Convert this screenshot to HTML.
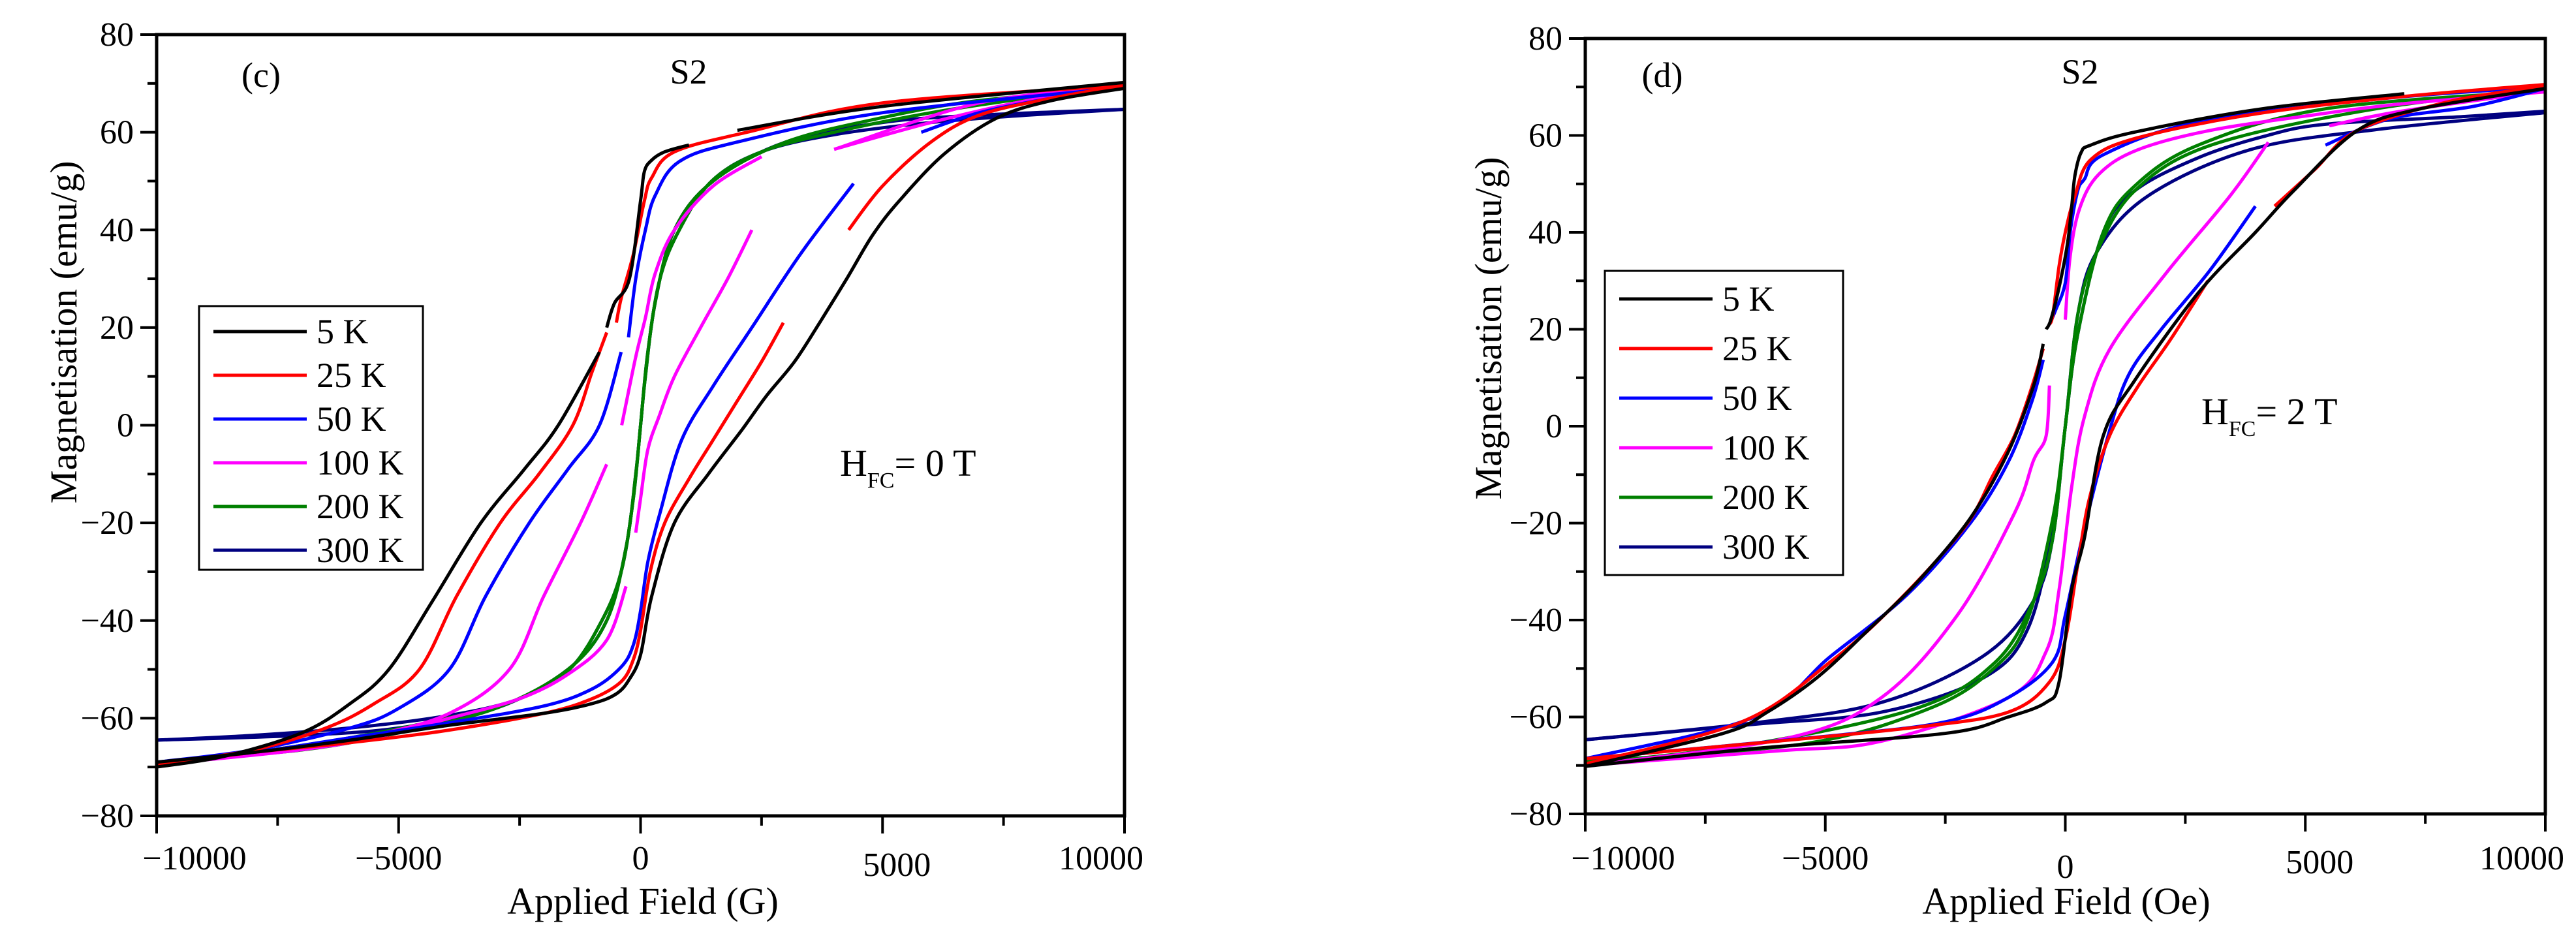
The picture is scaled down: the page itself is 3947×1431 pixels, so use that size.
<!DOCTYPE html>
<html><head><meta charset="utf-8"><style>
html,body{margin:0;padding:0;background:#fff;}
svg{display:block;font-family:"Liberation Serif","Times New Roman",serif;}
svg text{font-family:"Liberation Serif","Times New Roman",serif;fill:#000;}
</style></head>
<body>
<svg id="fig" width="3947" height="1431" viewBox="0 0 3947 1431" xmlns="http://www.w3.org/2000/svg" font-family="Liberation Serif, serif"></svg>
<script>
// ---- shared axis data ----
const xTicks = [-10000, -5000, 0, 5000, 10000];
const xMinorTicks = [-7500, -2500, 2500, 7500];
const yTicks = [80, 60, 40, 20, 0, -20, -40, -60, -80];
const yMinorTicks = [70, 50, 30, 10, -10, -30, -50, -70];
const xTickLabels = ["\u221210000", "\u22125000", "0", "5000", "10000"];
const yTickLabels = ["80", "60", "40", "20", "0", "\u221220", "\u221240", "\u221260", "\u221280"];
const temps = ["5 K", "25 K", "50 K", "100 K", "200 K", "300 K"];
const colors = ["#000000", "#ff0000", "#0000ff", "#ff00ff", "#008000", "#000080"];

// ---- panel (c) data: [field, magnetisation], null = gap ----
const c5Down = [[10000,70.2],[5000,65.3],[2000,60.4],null,[1000,57.4],[500,56],[230,54.3],[80,52],[0,46],[-230,30],[-540,25],[-700,20],null,[-850,15],[-1700,0],[-2400,-9],[-3300,-20],[-4300,-36],[-5200,-50],[-6000,-57],[-7000,-63],[-8600,-67.8],[-10000,-70]];
const c5Up = [[-10000,-69],[-8000,-67],[-6000,-64.5],[-4000,-61.5],[-2000,-59],[-1000,-57],[-500,-55],[-230,-52],[0,-47],[230,-35],[700,-20],[1400,-10],[2090,-1],[2600,6],[3180,13],[3700,21],[4260,30],[4800,39],[5350,46],[6280,55.6],[7360,62.9],[8500,66.5],[10000,69]];
const c25Down = [[10000,69.6],[5000,66],[2200,60],[700,56],[230,50.7],[80,46],[-150,35],[-400,26],[-500,21],null,[-700,19],[-1000,11],[-1400,0],[-2100,-10],[-2900,-20],[-3800,-35],[-4570,-50],[-5500,-57],[-6500,-62],[-8000,-66.5],[-10000,-69.5]];
const c25Up = [[-10000,-69.5],[-8000,-67],[-6000,-65],[-4000,-62.5],[-2000,-59],[-1000,-56],[-400,-52.5],[-150,-48],[0,-42],[200,-30],[500,-20],[1000,-11],[1500,-3],[2000,5],[2500,13],[2950,21],null,[4300,40],[5000,49],[6000,58],[7000,63.5],[8500,67],[10000,69.6]];
const c50Down = [[10000,69.2],[5000,64],[2000,58],[800,54],[300,47],[100,40],[-100,30],[-250,18],null,[-400,15],[-850,0],[-1500,-9],[-2300,-20],[-3200,-35],[-3950,-50],[-5000,-58],[-6000,-62],[-8000,-66.5],[-10000,-69]];
const c50Up = [[-10000,-69],[-8000,-67],[-6000,-64],[-4000,-61],[-2000,-57.5],[-1000,-54],[-400,-49.5],[-150,-45],[0,-38],[150,-28],[400,-18],[850,-3],[1500,8],[2300,20],[3300,35],[4400,49.5],null,[5800,60],[7000,64],[8500,67],[10000,69.2]];
const c100Down = [[10000,69.5],[7000,66],[4000,56.5],null,[2500,55],[1500,49],[700,40],[300,31],[100,22],[-100,14],[-390,0],null,[-700,-8],[-1240,-20],[-2000,-35],[-2710,-50],[-3950,-59],[-5500,-63.5],[-7050,-66.5],[-10000,-69.5]];
const c100Up = [[-10000,-69.5],[-7050,-66.5],[-5500,-64],[-3950,-60],[-2500,-56],[-1500,-51],[-700,-44],[-300,-33],null,[-100,-22],[0,-15],[150,-5],[390,2],[700,10],[1240,20],[1800,30],[2300,40],null,[4000,56.5],[6000,62],[8000,66.5],[10000,69.5]];
const c200Down = [[10000,69],[7000,66.5],[5000,63],[3000,58],[1500,50],[700,40],[300,25],[100,10],[0,0],[-150,-15],[-400,-30],[-800,-40],[-1470,-50],[-2500,-56],[-4000,-60],[-6000,-64],[-8000,-67],[-10000,-69.5]];
const c200Up = [[-10000,-69],[-7000,-66.5],[-5000,-63],[-3000,-58],[-1500,-50],[-700,-40],[-300,-25],[-100,-10],[0,0],[150,15],[400,30],[800,40],[1470,50],[2500,56],[4000,60],[6000,64],[8000,67],[10000,69.5]];
const c300Down = [[10000,64.7],[7000,63.5],[5000,62],[3000,58],[1500,50],[700,40],[300,25],[100,10],[0,0],[-150,-15],[-400,-30],[-800,-40],[-1470,-50],[-2500,-56],[-4000,-59.5],[-6000,-62],[-8000,-63.5],[-10000,-64.5]];
const c300Up = [[-10000,-64.5],[-7000,-63.5],[-5000,-62],[-3000,-58],[-1500,-50],[-700,-40],[-300,-25],[-100,-10],[0,0],[150,15],[400,30],[800,40],[1470,50],[2500,56],[4000,59.5],[6000,62],[8000,63.5],[10000,64.7]];

// ---- panel (d) data ----
const d5Down = [[7060,68.6],[4100,65.5],[1450,60.7],[530,58],[330,56.5],[200,51.7],[130,45],[50,38],[-100,30],[-300,22],[-400,20],null,[-460,17],[-660,8.4],[-1190,-5.3],[-1980,-19],[-3040,-31.7],[-4100,-42],[-5150,-51.7],[-6210,-59],[-7130,-63.4],[-10000,-70.2]];
const d5Up = [[-10000,-70.2],[-6470,-66.5],[-2510,-63.4],[-1190,-60],[-400,-57],[-130,-52.8],[130,-33.8],[400,-23],[790,-2],[1450,9.5],[2770,27.5],[3960,40],[4760,48.6],[6080,61],[7400,65.5],[10000,69.7]];
const d25Down = [[10000,70.5],[7000,68],[4000,64.5],[1500,59.5],[530,55],[200,47.5],[0,40],[-130,33],[-260,23],[-330,21],null,[-460,16],[-700,8],[-1060,-2],[-1500,-10],[-2110,-21],[-3570,-37],[-4890,-48.6],[-6740,-61],[-10000,-69.7]];
const d25Up = [[-10000,-68.6],[-6000,-65],[-3000,-62],[-1190,-59],[-330,-52.8],[0,-44],[260,-28.5],[500,-15],[920,-2],[1500,8],[2200,18],[2970,30],null,[4360,45.4],[5200,53],[6080,61],[8000,67],[10000,70.2]];
const d50Down = [[10000,70],[6600,67.6],[2770,62.8],[790,56],[400,51],[260,48.6],[100,40],[0,29.6],[-200,24],[-330,21],null,[-460,13.7],[-700,5],[-1190,-7.4],[-1980,-20],[-3300,-34.8],[-4890,-47.5],[-6470,-60],[-10000,-68.6]];
const d50Up = [[-10000,-68.6],[-5000,-64],[-2500,-61],[-1190,-56],[-260,-48.6],[0,-39],[400,-21],[920,-1],[1320,10.6],[2000,20],[3000,32],[3960,45.4],null,[5420,58],[6740,63.4],[8500,66],[10000,69.7]];
const d100Down = [[10000,69],[7000,66.5],[5000,64],[3000,61],[1500,57],[700,52],[300,45],[100,35],[0,22],null,[-330,8.4],[-400,-2],[-660,-7],[-1060,-18],[-2250,-39],[-3830,-56],[-5810,-64.4],[-10000,-70]];
const d100Up = [[-10000,-70],[-6000,-67],[-3830,-65],[-1190,-56],[-400,-46.5],[-130,-33.8],[130,-12.7],[400,2],[920,15.8],[2110,31.7],[3430,47.5],[4230,58.6],null,[5500,62],[7000,65],[10000,69.2]];
const d200Down = [[10000,69.2],[5420,65.5],[2770,58],[1450,49.6],[790,40],[260,19],[0,0],[-260,-23],[-660,-36],[-1450,-48.6],[-3040,-58],[-6470,-65.5],[-10000,-69.7]];
const d200Up = [[-10000,-69.2],[-5420,-65.5],[-2770,-58],[-1450,-49.6],[-790,-40],[-260,-19],[0,0],[260,23],[660,36],[1450,48.6],[3040,58],[6470,65.5],[10000,69.7]];
const d300Down = [[10000,65],[8320,63.9],[5420,62.3],[4100,59.7],[2770,55.4],[1450,48.6],[790,40],[260,19],[0,0],[-260,-23],[-660,-36],[-1720,-47.5],[-3830,-57],[-6470,-61.2],[-10000,-64.7]];
const d300Up = [[-10000,-64.7],[-6470,-61.5],[-3830,-59],[-1720,-52],[-790,-42],[-260,-21],[0,0],[260,23],[660,36],[1720,47.5],[3830,57],[6470,61.2],[10000,64.7]];

const NS = "http://www.w3.org/2000/svg";
const FONT = "Liberation Serif, Times New Roman, serif";
const svg = document.getElementById("fig");
function mk(tag, attrs, parent) {
  const e = document.createElementNS(NS, tag);
  for (const k in attrs) e.setAttribute(k, attrs[k]);
  (parent || svg).appendChild(e);
  return e;
}

function smoothPath(pts) {
  let d = "";
  for (let i = 0; i < pts.length; i++) {
    const p = pts[i];
    if (i === 0) { d += "M" + p[0].toFixed(1) + "," + p[1].toFixed(1); continue; }
    const p0 = pts[i - 2] || pts[i - 1], p1 = pts[i - 1], p3 = pts[i + 1] || p;
    const c1x = p1[0] + (p[0] - p0[0]) / 6, c1y = p1[1] + (p[1] - p0[1]) / 6;
    const c2x = p[0] - (p3[0] - p1[0]) / 6, c2y = p[1] - (p3[1] - p1[1]) / 6;
    d += "C" + c1x.toFixed(1) + "," + c1y.toFixed(1) + " " + c2x.toFixed(1) + "," + c2y.toFixed(1) + " " + p[0].toFixed(1) + "," + p[1].toFixed(1);
  }
  return d;
}

function txt(attrs, parent) {
  attrs["font-family"] = FONT;
  return mk("text", attrs, parent);
}

function panel(cfg) {
  const g = mk("g", {});
  
  
  const L = cfg.left, R = cfg.right, T = cfg.top, B = cfg.bottom;
  const sx = v => L + (v + 10000) / 20000 * (R - L);
  const sy = v => B - (v + 80) / 160 * (B - T);

  const cg = mk("g", {}, g);
  
  
  const order = [5, 4, 3, 2, 1, 0];
  order.forEach(i => {
    cfg.series[i].forEach((arr, bi) => {
      let seg = [];
      const segs = [];
      arr.forEach(p => { if (p === null) { if (seg.length) segs.push(seg); seg = []; } else seg.push([sx(p[0]), sy(p[1])]); });
      if (seg.length) segs.push(seg);
      segs.forEach(s => {
        const path = mk("path", { d: smoothPath(s), fill: "none", stroke: colors[i], "stroke-width": 5, "stroke-linejoin": "round" }, cg);
        
        
      });
    });
  });

  const fr = mk("rect", { x: L, y: T, width: R - L, height: B - T, fill: "none", stroke: "#000", "stroke-width": 5 }, g);
  
  

  yTicks.forEach((v, i) => {
    const t = mk("line", { x1: L - 25, x2: L, y1: sy(v), y2: sy(v), stroke: "#000", "stroke-width": 4 }, g);
    
    
    const tx = txt({ x: L - 35, y: sy(v) + 17, "text-anchor": "end", "font-size": 52 }, g);
    tx.textContent = yTickLabels[i];
    
    
  });
  yMinorTicks.forEach(v => {
    const t = mk("line", { x1: L - 14, x2: L, y1: sy(v), y2: sy(v), stroke: "#000", "stroke-width": 4 }, g);
    
    
  });
  xTicks.forEach((v, i) => {
    const t = mk("line", { x1: sx(v), x2: sx(v), y1: B, y2: B + 27, stroke: "#000", "stroke-width": 4 }, g);
    
    
    const tx = txt({ x: sx(v) + cfg.xLabelShift[i], y: cfg.xLabelY[i], "text-anchor": "middle", "font-size": 52 }, g);
    tx.textContent = xTickLabels[i];
    
    
  });
  xMinorTicks.forEach(v => {
    const t = mk("line", { x1: sx(v), x2: sx(v), y1: B, y2: B + 15, stroke: "#000", "stroke-width": 4 }, g);
    
    
  });

  const xt = txt({ x: cfg.xTitleX, y: 1400, "text-anchor": "middle", "font-size": 58 }, g);
  xt.textContent = cfg.xTitle;
  
  
  const yt = txt({ x: 0, y: 0, "text-anchor": "middle", "font-size": 58, transform: "translate(" + cfg.yTitleX + "," + cfg.yTitleY + ") rotate(-90)", textLength: 525, lengthAdjust: "spacingAndGlyphs" }, g);
  yt.textContent = "Magnetisation (emu/g)";
  
  

  const pl = txt({ x: cfg.labelX, y: 133, "text-anchor": "middle", "font-size": 54 }, g);
  pl.textContent = cfg.label;
  
  
  const s2 = txt({ x: cfg.s2X, y: 128, "text-anchor": "middle", "font-size": 54 }, g);
  s2.textContent = "S2";
  
  

  const hf = txt({ x: cfg.hX, y: cfg.hY, "font-size": 58 }, g);
  
  
  const t1 = mk("tspan", {}, hf); t1.textContent = "H";
  const t2 = mk("tspan", { dy: 18, "font-size": 34 }, hf); t2.textContent = "FC";
  const t3 = mk("tspan", { dy: -18 }, hf); t3.textContent = "= " + cfg.hText;

  const lg = mk("g", {}, g);
  
  
  const lb = mk("rect", { x: cfg.legX, y: cfg.legY, width: cfg.legW, height: cfg.legH, fill: "#fff", stroke: "#000", "stroke-width": 3 }, lg);
  
  
  temps.forEach((tname, i) => {
    const yy = cfg.legY + cfg.legRow0 + i * cfg.legStep;
    const ln = mk("line", { x1: cfg.legX + 22, x2: cfg.legX + 165, y1: yy, y2: yy, stroke: colors[i], "stroke-width": 5 }, lg);
    
    
    const tx = txt({ x: cfg.legX + 180, y: yy + 18, "font-size": 54 }, lg);
    tx.textContent = tname;
    
    
  });
}

panel({
  name: "panel-c", left: 240, right: 1723, top: 53, bottom: 1250,
  series: [[c5Down, c5Up], [c25Down, c25Up], [c50Down, c50Up], [c100Down, c100Up], [c200Down, c200Up], [c300Down, c300Up]],
  xLabelShift: [58, 0, 0, 22, -36], xLabelY: [1332, 1332, 1332, 1342, 1332],
  xTitle: "Applied Field (G)", xTitleX: 985, yTitleX: 117, yTitleY: 509,
  label: "(c)", labelX: 400, s2X: 1055, hX: 1287, hY: 729, hText: "0 T",
  legX: 305, legY: 469, legW: 343, legH: 404, legRow0: 39, legStep: 67
});
panel({
  name: "panel-d", left: 2429, right: 3900, top: 59, bottom: 1247,
  series: [[d5Down, d5Up], [d25Down, d25Up], [d50Down, d50Up], [d100Down, d100Up], [d200Down, d200Up], [d300Down, d300Up]],
  xLabelShift: [58, 0, 0, 22, -36], xLabelY: [1332, 1332, 1345, 1338, 1332],
  xTitle: "Applied Field (Oe)", xTitleX: 3166, yTitleX: 2300, yTitleY: 503,
  label: "(d)", labelX: 2547, s2X: 3187, hX: 3373, hY: 650, hText: "2 T",
  legX: 2459, legY: 415, legW: 365, legH: 466, legRow0: 43, legStep: 76
});
</script>
</body></html>
